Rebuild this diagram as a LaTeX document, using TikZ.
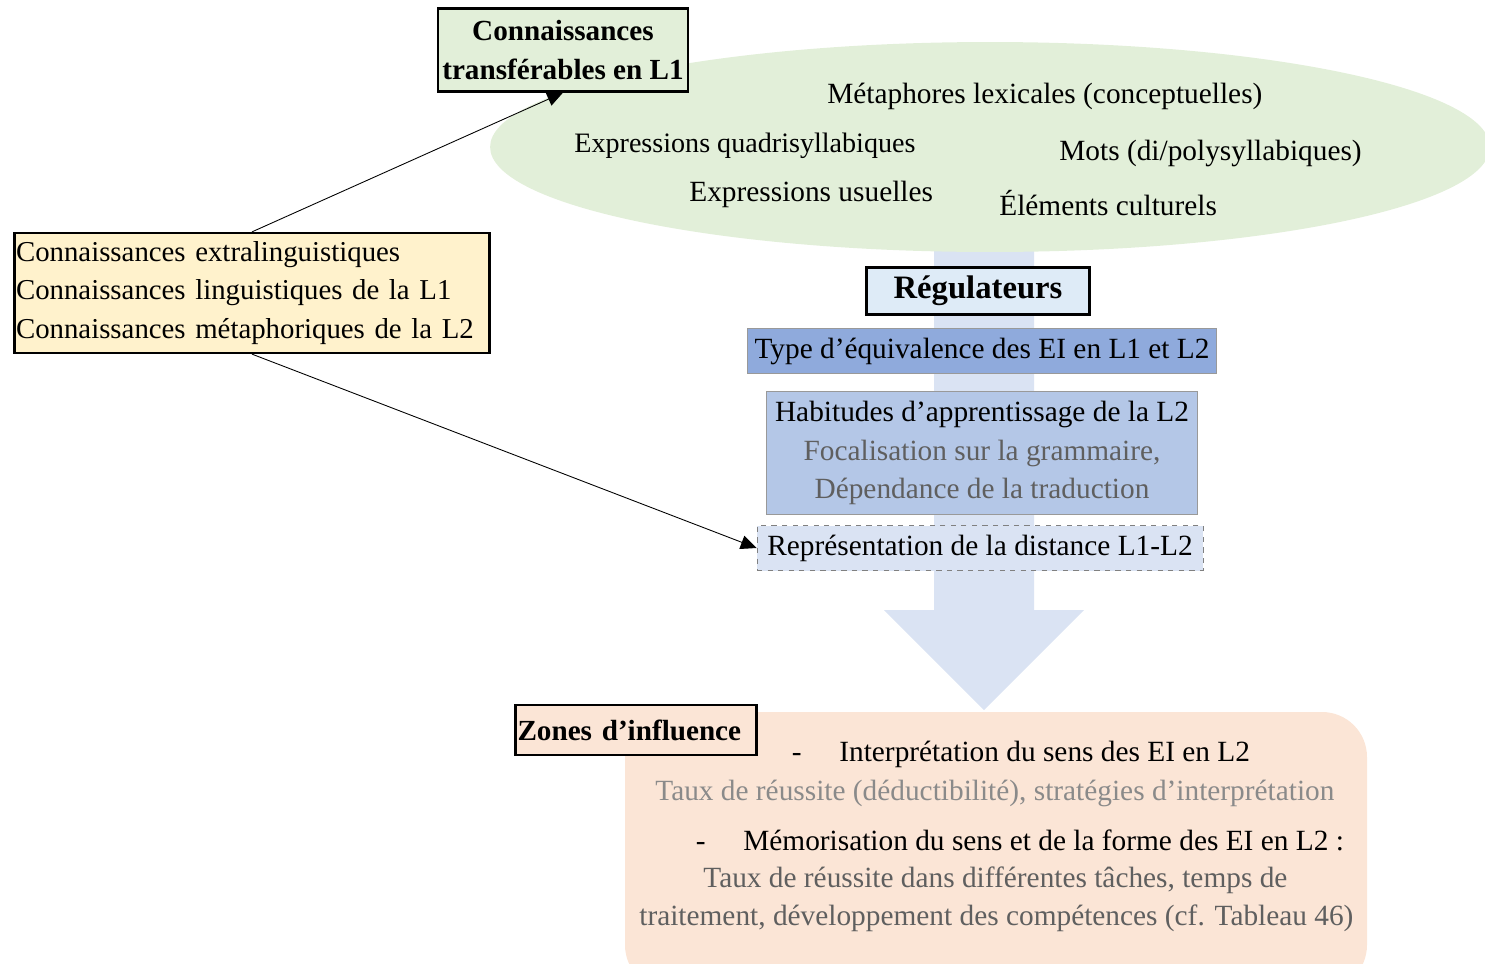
\documentclass[tikz,border=0pt]{standalone}
\usepackage{fontspec}
\setmainfont{Liberation Serif}
\usetikzlibrary{arrows.meta,shapes.geometric}
\definecolor{cgreen}{HTML}{E2EFD9}
\definecolor{cyellow}{HTML}{FFF2CC}
\definecolor{cpale}{HTML}{DAE3F3}
\definecolor{creg}{HTML}{DEEBF7}
\definecolor{ctype}{HTML}{8FAADC}
\definecolor{chab}{HTML}{B4C7E7}
\definecolor{cpeach}{HTML}{FBE5D6}
\definecolor{cgrayA}{HTML}{5F5F5F}
\definecolor{cgrayB}{HTML}{8A8A8A}
\tikzset{
  txt/.style={font=\fontsize{16.7}{22}\selectfont, inner sep=0pt},
  boldbox/.style={draw=black, line width=1.3pt, inner sep=0pt, font=\fontsize{16.6}{22}\selectfont\bfseries, align=center},
  thinbox/.style={draw=gray!80, line width=0.5pt, inner sep=0pt, font=\fontsize{16.7}{22}\selectfont, align=center},
  conn/.style={line width=0.5pt, -{Triangle[length=9pt,width=8pt]}},
}
\begin{document}
\begin{tikzpicture}[x=0.02cm,y=-0.02cm]
\useasboundingbox (0,0) rectangle (1485,964);
% big arrow
\fill[cpale] (934,245) -- (1034,245) -- (1034,610) -- (1084,610) -- (984,710) -- (884,610) -- (934,610) -- cycle;
% cloud
\node[ellipse, fill=cgreen, minimum width=20cm, minimum height=4.2cm, inner sep=0pt] (cloud) at (990,147) {};
\node[txt, anchor=west] (m1) at (827,96) {Métaphores lexicales (conceptuelles)};
\node[txt, anchor=west, font=\fontsize{16.0}{22}\selectfont] (m2) at (574,146) {Expressions quadrisyllabiques};
\node[txt, anchor=west] (m3) at (1059,153) {Mots (di/polysyllabiques)};
\node[txt, anchor=west] (m4) at (689,194) {Expressions usuelles};
\node[txt, anchor=west] (m5) at (999,203) {Éléments culturels};
% transferable
\node[boldbox, fill=cgreen, minimum width=5cm, minimum height=1.66cm] (trans) at (563,50) {Connaissances\\transférables en L1};
% left box
\node[draw=black, line width=1.3pt, fill=cyellow, text width=9.44cm, inner xsep=0.03cm, inner ysep=0pt, minimum height=2.4cm, align=left, font=\fontsize{16.4}{22}\selectfont] (left) at (252,293) {Connaissances extralinguistiques\\Connaissances linguistiques de la L1\\Connaissances métaphoriques de la L2};
% regulators
\node[boldbox, fill=creg, minimum width=4.46cm, minimum height=0.94cm, font=\fontsize{18.6}{22}\selectfont\bfseries] (reg) at (978,291) {Régulateurs};
\node[thinbox, fill=ctype, minimum width=9.38cm, minimum height=0.9cm] (type) at (982,351) {Type d’équivalence des EI en L1 et L2};
\node[thinbox, fill=chab, minimum width=8.62cm, minimum height=2.46cm] (hab) at (982,453) {Habitudes d’apprentissage de la L2\\\textcolor{cgrayA}{Focalisation sur la grammaire,}\\\textcolor{cgrayA}{Dépendance de la traduction}};
\node[thinbox, draw=gray, dashed, fill=cpale, minimum width=8.92cm, minimum height=0.9cm] (repr) at (980,548) {Représentation de la distance L1-L2};
% zones
\fill[cpeach, rounded corners=0.9cm] (625,712) rectangle (1367,990);
\node[boldbox, fill=cpeach, minimum width=4.82cm, minimum height=1.0cm, text width=4.74cm, align=left] (zone) at (636,730) {Zones d’influence};
\node[txt, anchor=west] (z1) at (839,754) {Interprétation du sens des EI en L2};
\node[txt, anchor=base east] (d1) at ([xshift=-0.74cm]z1.base west) {-};
\node[txt, anchor=west, text=cgrayB] (z2) at (655,793) {Taux de réussite (déductibilité), stratégies d’interprétation};
\node[txt, anchor=west] (z3) at (743,840) {Mémorisation du sens et de la forme des EI en L2 :};
\node[txt, anchor=base east] (d2) at ([xshift=-0.74cm]z3.base west) {-};
\node[txt, anchor=west, text=cgrayA] (z4) at (703,880) {Taux de réussite dans différentes tâches, temps de};
\node[txt, anchor=west, text=cgrayA] (z5) at (639,918) {traitement, développement des compétences (cf. Tableau 46)};
% connectors
\draw[conn] (left.north) -- (trans.south);
\draw[conn] (left.south) -- (repr.west);
\end{tikzpicture}
\end{document}
